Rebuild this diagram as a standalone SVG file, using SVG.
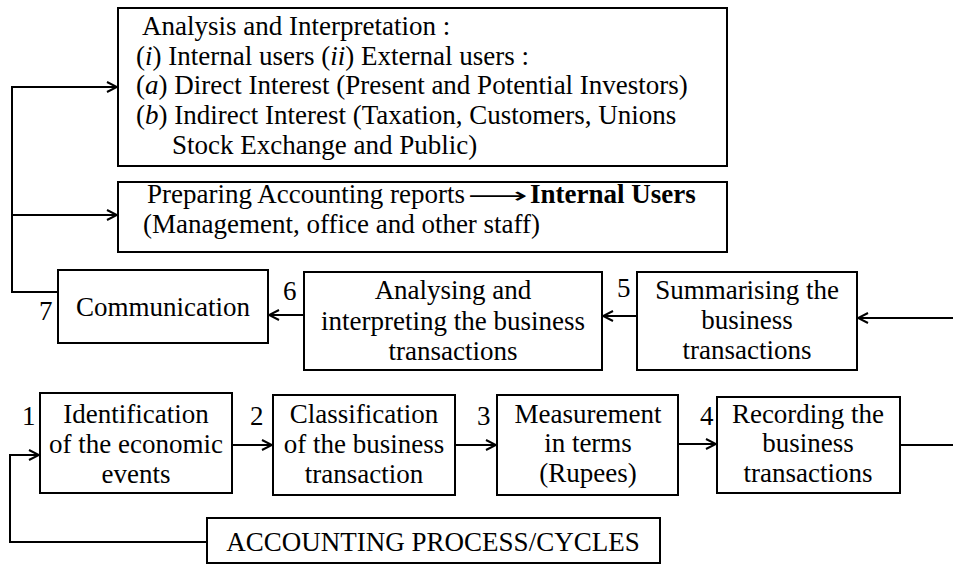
<svg xmlns="http://www.w3.org/2000/svg" width="953" height="565" viewBox="0 0 953 565">
<style>
.t{font-family:"Liberation Serif","Times New Roman",serif;font-size:27px;fill:#000}
.c{text-anchor:middle}
.b{font-weight:bold}
.i{font-style:italic}
.box{fill:#fff;stroke:#000;stroke-width:2}
.ln{fill:none;stroke:#000;stroke-width:2}
</style>
<defs>
<marker id="ah" viewBox="0 0 12 12" refX="11" refY="6" markerWidth="12" markerHeight="12" markerUnits="userSpaceOnUse" orient="auto">
<path d="M1,1 L11,6 L1,11" fill="none" stroke="#000" stroke-width="2"/>
</marker>
</defs>
<rect width="953" height="565" fill="#fff"/>
<g id="connectors">
<path class="ln" d="M58,292 H12 V87 H117" marker-end="url(#ah)"/>
<path class="ln" d="M12,215 H117" marker-end="url(#ah)"/>
<path class="ln" d="M953,318 H858" marker-end="url(#ah)"/>
<path class="ln" d="M637,316 H603" marker-end="url(#ah)"/>
<path class="ln" d="M304,315 H269" marker-end="url(#ah)"/>
<path class="ln" d="M207,542 H10 V455 H39" marker-end="url(#ah)"/>
<path class="ln" d="M232,445 H272" marker-end="url(#ah)"/>
<path class="ln" d="M455,445 H496" marker-end="url(#ah)"/>
<path class="ln" d="M678,444 H716" marker-end="url(#ah)"/>
<path class="ln" d="M900,445 H953"/>
</g>
<g id="analysis">
<rect class="box" x="118" y="8" width="609" height="158"/>
<text class="t" x="142" y="35">Analysis and Interpretation :</text>
<text class="t" x="136" y="65">(<tspan class="i">i</tspan>) Internal users (<tspan class="i">ii</tspan>) External users :</text>
<text class="t" x="136" y="94">(<tspan class="i">a</tspan>) Direct Interest (Present and Potential Investors)</text>
<text class="t" x="136" y="124">(<tspan class="i">b</tspan>) Indirect Interest (Taxation, Customers, Unions</text>
<text class="t" x="172" y="154">Stock Exchange and Public)</text>
</g>
<g id="reports">
<rect class="box" x="118" y="182" width="609" height="70"/>
<text class="t" x="147" y="203">Preparing Accounting reports</text>
<text class="t" x="468" y="203" textLength="60" lengthAdjust="spacingAndGlyphs" style="font-family:'DejaVu Sans',sans-serif;font-size:22px">⟶</text>
<text class="t b" x="530" y="203">Internal Users</text>
<text class="t" x="143" y="233">(Management, office and other staff)</text>
</g>
<g id="communication">
<rect class="box" x="58" y="270" width="210" height="73"/>
<text class="t c" x="163" y="316">Communication</text>
<text class="t" x="39" y="320">7</text>
</g>
<g id="analysing">
<rect class="box" x="304" y="272" width="298" height="98"/>
<text class="t c" x="453" y="299">Analysing and</text>
<text class="t c" x="453" y="330">interpreting the business</text>
<text class="t c" x="453" y="360">transactions</text>
<text class="t" x="283" y="300">6</text>
</g>
<g id="summarising">
<rect class="box" x="637" y="272" width="220" height="98"/>
<text class="t c" x="747" y="299">Summarising the</text>
<text class="t c" x="747" y="329">business</text>
<text class="t c" x="747" y="359">transactions</text>
<text class="t" x="617" y="297">5</text>
</g>
<g id="identification">
<rect class="box" x="40" y="393" width="192" height="100"/>
<text class="t c" x="136" y="423">Identification</text>
<text class="t c" x="136" y="453">of the economic</text>
<text class="t c" x="136" y="483">events</text>
<text class="t" x="22" y="425">1</text>
</g>
<g id="classification">
<rect class="box" x="273" y="395" width="182" height="100"/>
<text class="t c" x="364" y="423">Classification</text>
<text class="t c" x="364" y="453">of the business</text>
<text class="t c" x="364" y="483">transaction</text>
<text class="t" x="250" y="425">2</text>
</g>
<g id="measurement">
<rect class="box" x="497" y="395" width="181" height="100"/>
<text class="t c" x="588" y="423">Measurement</text>
<text class="t c" x="588" y="452">in terms</text>
<text class="t c" x="588" y="482">(Rupees)</text>
<text class="t" x="477" y="425">3</text>
</g>
<g id="recording">
<rect class="box" x="717" y="397" width="183" height="96"/>
<text class="t c" x="808" y="423">Recording the</text>
<text class="t c" x="808" y="452">business</text>
<text class="t c" x="808" y="482">transactions</text>
<text class="t" x="700" y="425">4</text>
</g>
<g id="cycle">
<rect class="box" x="207" y="518" width="453" height="45"/>
<text class="t c" x="433" y="551">ACCOUNTING PROCESS/CYCLES</text>
</g>
</svg>
